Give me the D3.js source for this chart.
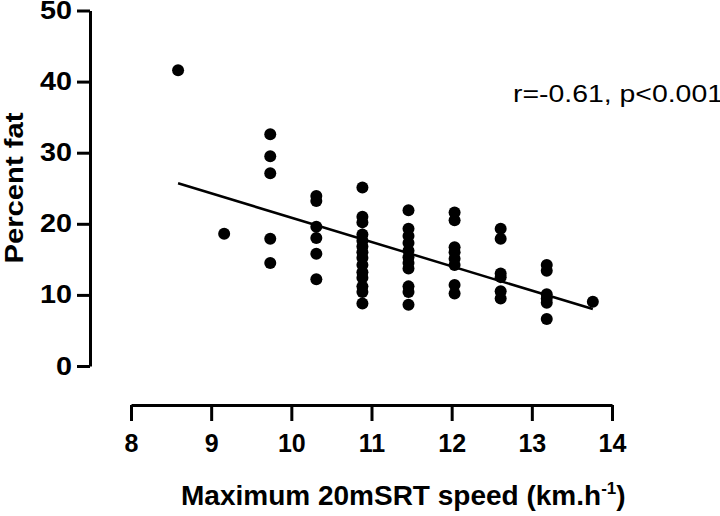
<!DOCTYPE html>
<html>
<head>
<meta charset="utf-8">
<script src="https://cdn.jsdelivr.net/npm/d3@7/dist/d3.min.js"></script>
<style>
  body { margin: 0; background: #fff; }
  svg { display: block; font-family: "Liberation Sans", Arial, sans-serif; }
</style>
</head>
<body>
<svg id="chart" width="720" height="516"></svg>
<script>
// shuttle run stage reached (km/h) and percent body fat, one entry per child
const speeds = [
  8.5,
  9,
  9.5, 9.5, 9.5, 9.5, 9.5,
  10, 10, 10, 10, 10, 10,
  10.5, 10.5, 10.5, 10.5, 10.5, 10.5, 10.5, 10.5, 10.5, 10.5, 10.5, 10.5, 10.5, 10.5,
  11, 11, 11, 11, 11, 11, 11, 11, 11, 11, 11,
  11.5, 11.5, 11.5, 11.5, 11.5, 11.5, 11.5, 11.5,
  12, 12, 12, 12, 12, 12,
  12.5, 12.5, 12.5, 12.5, 12.5, 12.5,
  13
];
const percentFat = [
  41.6,
  18.6,
  32.6, 29.5, 27.1, 17.9, 14.5,
  23.9, 23.2, 19.6, 18.0, 15.8, 12.2,
  25.1, 21.0, 20.2, 18.5, 17.6, 16.8, 16.0, 15.2, 14.2, 13.2, 12.4, 11.2, 10.4, 8.8,
  21.9, 19.3, 18.3, 17.3, 16.2, 15.3, 14.5, 13.7, 11.2, 10.4, 8.6,
  21.6, 20.5, 16.7, 16.0, 15.1, 14.2, 11.4, 10.2,
  19.3, 17.9, 13.0, 12.5, 10.5, 9.5,
  14.2, 13.4, 10.1, 9.5, 8.9, 6.6,
  9.05
];
const xTicks = [8, 9, 10, 11, 12, 13, 14];
const yTicks = [0, 10, 20, 30, 40, 50];

// fitted line as drawn
const fitFrom = 8.5, fitTo = 13;
const fitIntercept = 59.1, fitSlope = -3.93;
const statsLabel = "r=-0.61, p<0.001";

const svg = d3.select("#chart");

const x = d3.scaleLinear().domain([8, 14]).range([131, 612]);
// in the source figure the point grid is wider than the tick spacing of its axis
const xPts = d3.scaleLinear().domain([8, 14]).range([132, 685]);
const y = d3.scaleLinear().domain([0, 50]).range([366, 10.5]);

const points = speeds.map((s, i) => ({ s: s, f: percentFat[i] }));

// axes
const xAxis = svg.append("g")
    .attr("transform", "translate(0,405)")
    .call(d3.axisBottom(x).tickValues(xTicks).tickFormat(d3.format("d"))
        .tickSize(16).tickSizeOuter(0).tickPadding(13));

const yAxis = svg.append("g")
    .attr("transform", "translate(90,0)")
    .call(d3.axisLeft(y).tickValues(yTicks).tickFormat(d3.format("d"))
        .tickSize(13).tickSizeOuter(0).tickPadding(5));

[xAxis, yAxis].forEach(g => {
    g.select(".domain").attr("stroke", "#000").attr("stroke-width", 3);
    g.selectAll(".tick line").attr("stroke", "#000").attr("stroke-width", 3);
    g.selectAll(".tick text")
        .attr("fill", "#000")
        .attr("font-family", "'Liberation Sans', Arial, sans-serif")
        .attr("font-weight", "bold");
});
xAxis.selectAll(".tick text").attr("font-size", 25);
yAxis.selectAll(".tick text")
    .attr("font-size", 25)
    .attr("textLength", d => d >= 10 ? 32 : 16)
    .attr("lengthAdjust", "spacingAndGlyphs");

// regression line
svg.append("line")
    .attr("x1", xPts(fitFrom))
    .attr("y1", y(fitIntercept + fitSlope * fitFrom))
    .attr("x2", xPts(fitTo))
    .attr("y2", y(fitIntercept + fitSlope * fitTo))
    .attr("stroke", "#000")
    .attr("stroke-width", 2.5);

// points
svg.selectAll(".dot")
    .data(points)
    .enter().append("circle")
    .attr("class", "dot")
    .attr("cx", d => xPts(d.s))
    .attr("cy", d => y(d.f))
    .attr("r", 6)
    .attr("fill", "#000");

// titles
svg.append("text")
    .attr("transform", "translate(23,188) rotate(-90)")
    .attr("text-anchor", "middle")
    .attr("font-size", 26)
    .attr("font-weight", "bold")
    .attr("textLength", 151)
    .attr("lengthAdjust", "spacingAndGlyphs")
    .text("Percent fat");

const xTitle = svg.append("text")
    .attr("x", 181)
    .attr("y", 505)
    .attr("font-size", 28)
    .attr("font-weight", "bold");
xTitle.append("tspan").text("Maximum 20mSRT speed (km.h");
xTitle.append("tspan").attr("font-size", 17).attr("dy", -11).text("-1");
xTitle.append("tspan").attr("dy", 11).text(")");

svg.append("text")
    .attr("x", 513)
    .attr("y", 102)
    .attr("font-size", 24)
    .attr("textLength", 210)
    .attr("lengthAdjust", "spacingAndGlyphs")
    .text(statsLabel);
</script>
</body>
</html>
